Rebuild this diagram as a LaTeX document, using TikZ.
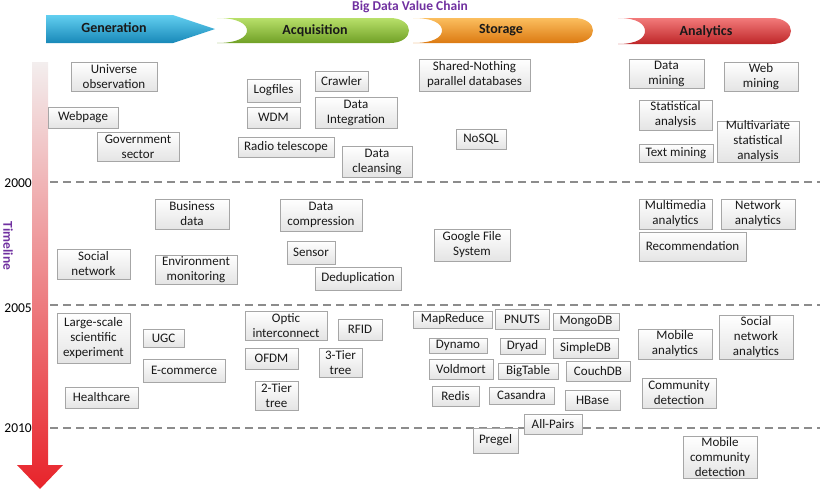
\documentclass[tikz,border=0pt]{standalone}
\usepackage{fontspec}
\setmainfont{Carlito}
\usetikzlibrary{shadows}
\definecolor{ttlpurple}{HTML}{7030A0}
\definecolor{boxline}{HTML}{A6A6A6}
\definecolor{boxbot}{HTML}{E4E4E4}
\definecolor{dashgray}{HTML}{8C8C8C}
\definecolor{genA}{HTML}{62CFF0}\definecolor{genB}{HTML}{2AABDA}\definecolor{genC}{HTML}{1888B8}
\definecolor{acqA}{HTML}{B8E06A}\definecolor{acqB}{HTML}{9ACB3C}\definecolor{acqC}{HTML}{70A026}
\definecolor{stoA}{HTML}{FBBE5E}\definecolor{stoB}{HTML}{F5962A}\definecolor{stoC}{HTML}{DC7A12}
\definecolor{anaA}{HTML}{F27A7A}\definecolor{anaB}{HTML}{E24144}\definecolor{anaC}{HTML}{BE2628}
\definecolor{tlA}{HTML}{F3EEEE}\definecolor{tlB}{HTML}{E8232A}
\tikzset{
  box/.style={draw=boxline, line width=0.8pt, top color=white, bottom color=boxbot,
    inner sep=0pt, align=center, text=black!90,
    font=\fontsize{13}{15}\selectfont,
    drop shadow={shadow xshift=0.9pt, shadow yshift=-0.9pt, opacity=0.25, fill=black}},
  bannertext/.style={font=\fontsize{14}{16}\selectfont\bfseries, text=black!90},
  yearlbl/.style={font=\fontsize{13.5}{15}\selectfont, anchor=east, inner sep=0pt},
  yearline/.style={draw=dashgray, line width=1.1pt, dash pattern=on 8pt off 5pt},
}
\newcommand\bx[6]{\node[box,minimum width={(#4-#2)*1pt},minimum height={(#5-#3)*1pt}] (#1) at ({(#2+#4)/2},{(#3+#5)/2}) {#6};}
\begin{document}
\begin{tikzpicture}[x=1pt,y=-1pt]
\useasboundingbox (0,0) rectangle (820,490);
% title
\node[font=\fontsize{13.5}{15}\selectfont\bfseries, text=ttlpurple] (title) at (410,7) {Big Data Value Chain};
% banners
\path[top color=genA, middle color=genB, bottom color=genC]
  (46,15) -- (173,15) -- (215,29) -- (173,43) -- (46,43) -- cycle;
\node[bannertext] (gen) at (114,28) {Generation};
\path[top color=acqA, middle color=acqB, bottom color=acqC]
  (217,18) -- (390,18) .. controls (402,18) and (409,24) .. (409,30.5)
  .. controls (409,37) and (402,43) .. (390,43) -- (217,43)
  .. controls (238,43) and (247,37) .. (247,30.5) .. controls (247,24) and (238,18) .. (217,18) -- cycle;
\node[bannertext] (acq) at (315,30.5) {Acquisition};
\path[top color=stoA, middle color=stoB, bottom color=stoC]
  (413,18) -- (574,18) .. controls (586,18) and (593,24) .. (593,30.5)
  .. controls (593,37) and (586,43) .. (574,43) -- (413,43)
  .. controls (434,43) and (442,37) .. (442,30.5) .. controls (442,24) and (434,18) .. (413,18) -- cycle;
\node[bannertext] (sto) at (501,30.5) {Storage};
\path[top color=anaA, middle color=anaB, bottom color=anaC]
  (618,18) -- (772,18) .. controls (784,18) and (791,24.5) .. (791,31)
  .. controls (791,37.5) and (784,44) .. (772,44) -- (618,44)
  .. controls (638,44) and (645,37.5) .. (645,31) .. controls (645,24.5) and (638,18) .. (618,18) -- cycle;
\node[bannertext] (ana) at (706,31.5) {Analytics};
% timeline arrow
\path[top color=tlA, bottom color=tlB]
  (32,62) -- (48,62) -- (48,465) -- (63,465) -- (40,489) -- (17,465) -- (32,465) -- cycle;
\node[rotate=-90, font=\fontsize{13.5}{15}\selectfont\bfseries, text=ttlpurple, inner sep=0pt] (tl) at (8,246) {Timeline};
% year lines
\coordinate (l1a) at (50,182); \coordinate (l1b) at (820,182);
\coordinate (l2a) at (50,305); \coordinate (l2b) at (820,305);
\coordinate (l3a) at (50,428); \coordinate (l3b) at (820,428);
\draw[yearline] (l1a) -- (l1b);
\draw[yearline] (l2a) -- (l2b);
\draw[yearline] (l3a) -- (l3b);
\node[yearlbl] (y2000) at (32,183) {2000};
\node[yearlbl] (y2005) at (32,308) {2005};
\node[yearlbl] (y2010) at (32,428) {2010};
% boxes
\bx{uni}{71}{62}{157}{91}{Universe\\observation}
\bx{web}{48}{107}{118}{128}{Webpage}
\bx{gov}{97}{132}{179}{161}{Government\\sector}
\bx{logf}{247}{79}{300}{102}{Logfiles}
\bx{wdm}{247}{107}{300}{128}{WDM}
\bx{crw}{315}{71}{368}{91}{Crawler}
\bx{dint}{315}{97}{397}{128}{Data\\Integration}
\bx{radio}{238}{137}{334}{157}{Radio telescope}
\bx{dcl}{342}{146}{412}{177}{Data\\cleansing}
\bx{snp}{419}{59}{530}{91}{Shared-Nothing\\parallel databases}
\bx{nosql}{456}{129}{506}{149}{NoSQL}
\bx{dmin}{629}{59}{704}{88}{Data\\mining}
\bx{wmin}{724}{62}{798}{91}{Web\\mining}
\bx{stat}{639}{100}{712}{130}{Statistical\\analysis}
\bx{mult}{717}{121}{799}{162}{Multivariate\\statistical\\analysis}
\bx{txt}{639}{144}{713}{162}{Text mining}
\bx{bus}{155}{199}{229}{229}{Business\\data}
\bx{soc}{57}{249}{130}{279}{Social\\network}
\bx{env}{155}{255}{237}{284}{Environment\\monitoring}
\bx{dcomp}{280}{199}{362}{231}{Data\\compression}
\bx{sens}{287}{241}{335}{264}{Sensor}
\bx{dedup}{315}{267}{401}{290}{Deduplication}
\bx{gfs}{434}{229}{510}{261}{Google File\\System}
\bx{mma}{639}{199}{712}{229}{Multimedia\\analytics}
\bx{neta}{721}{199}{795}{229}{Network\\analytics}
\bx{rec}{639}{232}{746}{261}{Recommendation}
\bx{lss}{57}{313}{130}{363}{Large-scale\\scientific\\experiment}
\bx{ugc}{143}{329}{184}{347}{UGC}
\bx{ecom}{143}{359}{225}{382}{E-commerce}
\bx{hc}{65}{387}{138}{408}{Healthcare}
\bx{optic}{245}{311}{327}{340}{Optic\\interconnect}
\bx{rfid}{338}{319}{382}{340}{RFID}
\bx{ofdm}{245}{348}{298}{369}{OFDM}
\bx{tthree}{319}{348}{362}{377}{3-Tier\\tree}
\bx{ttwo}{255}{381}{298}{410}{2-Tier\\tree}
\bx{mr}{413}{311}{492}{328}{MapReduce}
\bx{pnuts}{495}{309}{549}{329}{PNUTS}
\bx{mongo}{553}{313}{619}{330}{MongoDB}
\bx{dyn}{429}{338}{487}{353}{Dynamo}
\bx{dryad}{500}{338}{545}{354}{Dryad}
\bx{sdb}{553}{338}{618}{358}{SimpleDB}
\bx{vold}{429}{359}{493}{379}{Voldmort}
\bx{bigt}{498}{363}{558}{379}{BigTable}
\bx{couch}{566}{361}{630}{381}{CouchDB}
\bx{redis}{432}{386}{479}{406}{Redis}
\bx{cas}{489}{387}{554}{404}{Casandra}
\bx{hb}{565}{390}{620}{410}{HBase}
\bx{allp}{524}{414}{582}{434}{All-Pairs}
\bx{pregel}{473}{428}{518}{453}{Pregel}
\bx{moba}{638}{329}{712}{359}{Mobile\\analytics}
\bx{sna}{719}{315}{793}{359}{Social\\network\\analytics}
\bx{comm}{642}{378}{716}{408}{Community\\detection}
\bx{mcd}{683}{436}{757}{478}{Mobile\\community\\detection}
\end{tikzpicture}
\end{document}
